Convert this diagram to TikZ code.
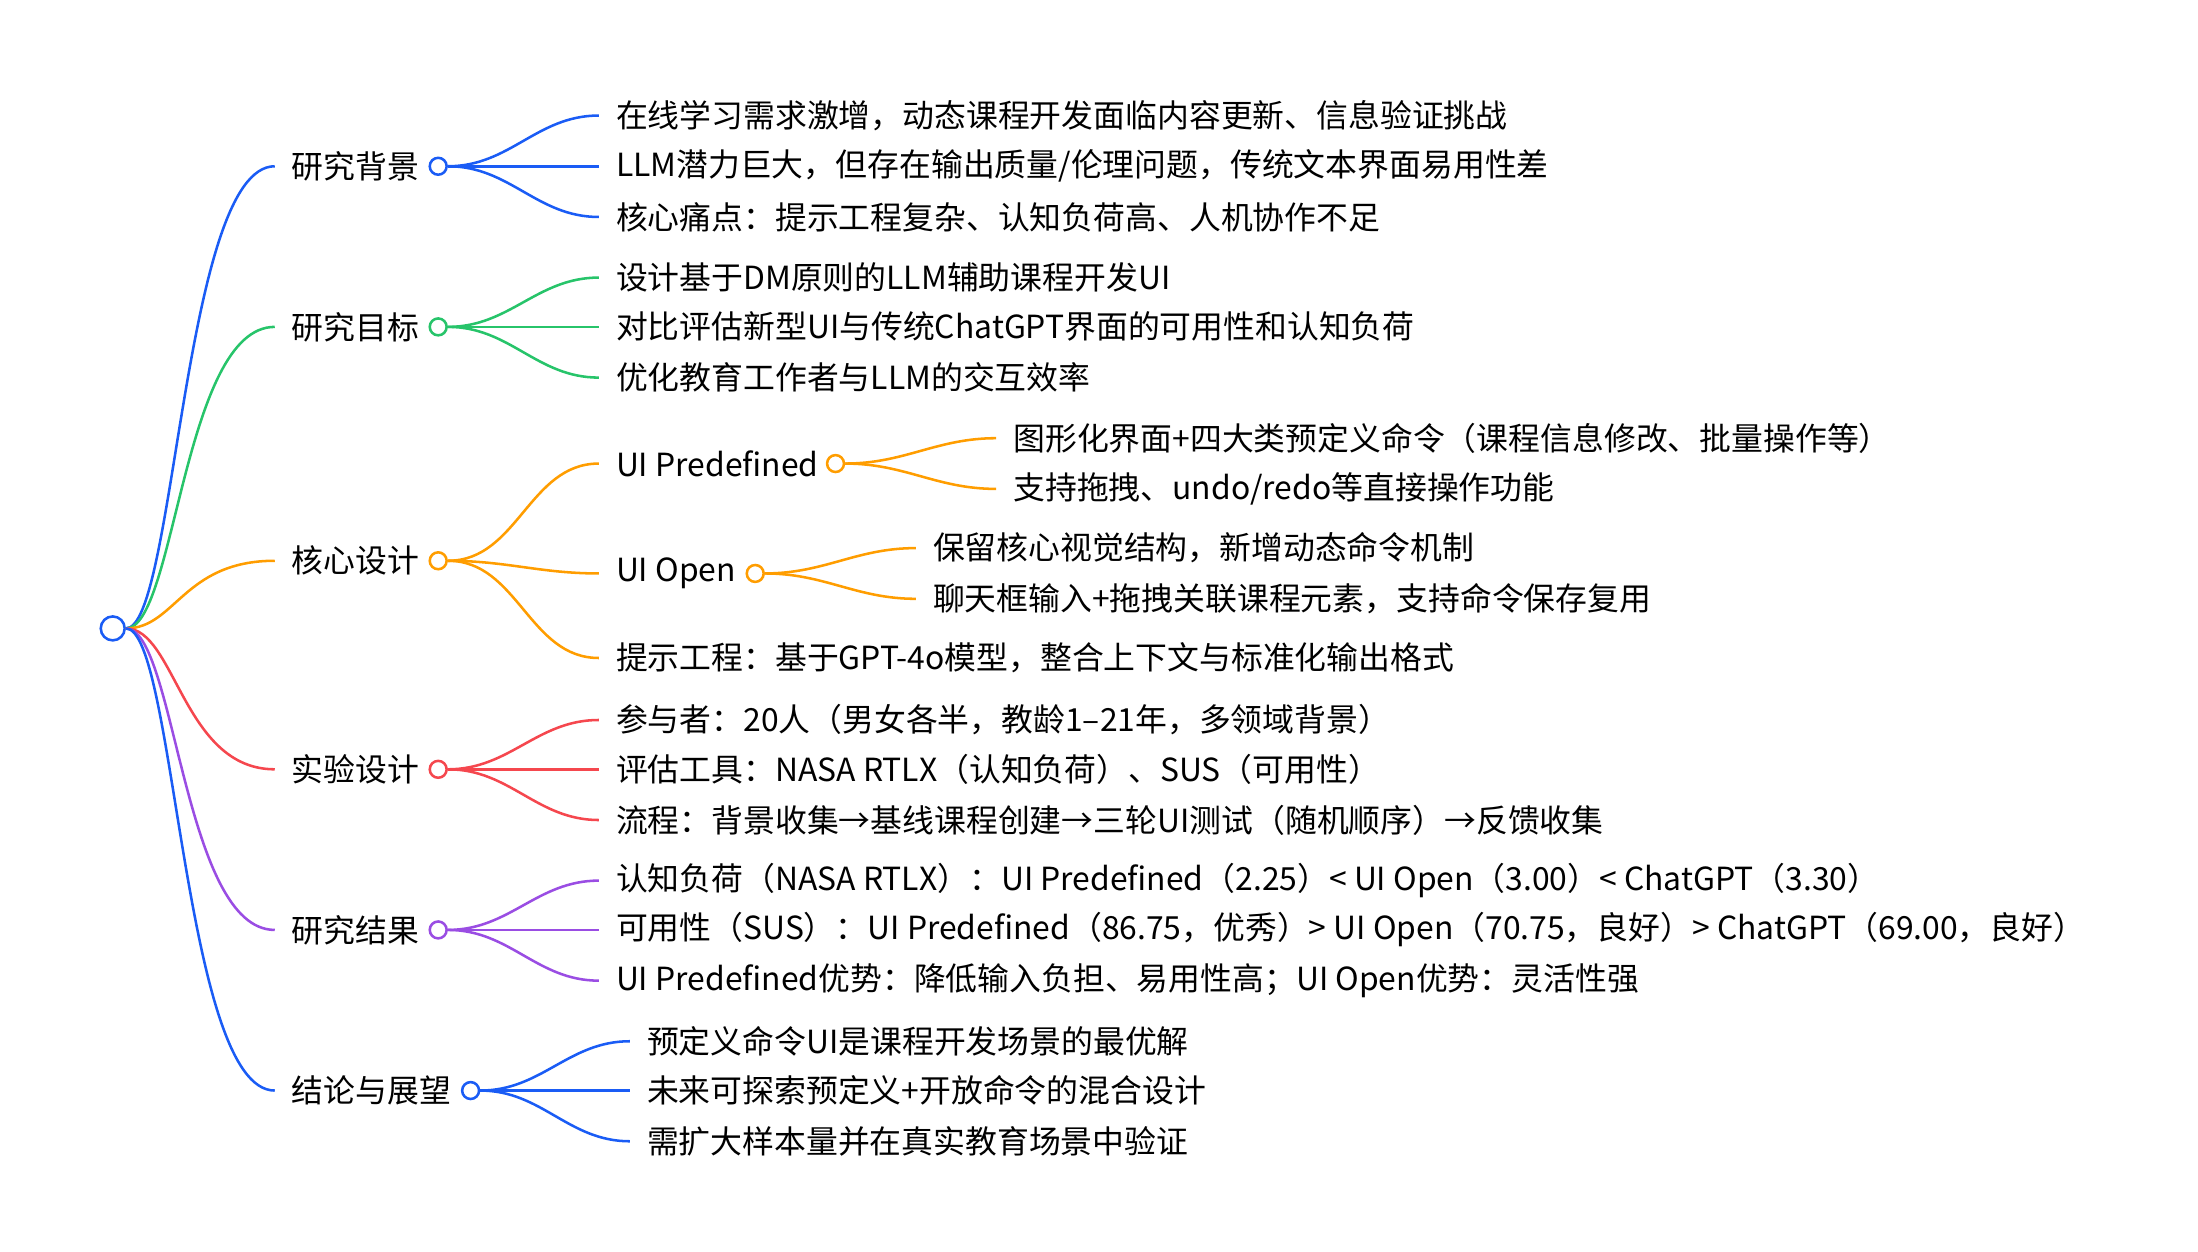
\documentclass[tikz,border=0pt]{standalone}
\usepackage{fontspec}
\setmainfont{Noto Sans CJK SC}
\begin{document}
\begin{tikzpicture}[x=1pt,y=-1pt,
  lbl/.style={anchor=west,inner sep=0pt,font=\fontsize{22.6}{26}\selectfont},
  dot/.style={circle,draw=#1,fill=white,line width=1.8pt,minimum size=12pt,inner sep=0pt},
  ln/.style={draw=#1,line width=1.8pt,out=0,in=180}]
\useasboundingbox (0,0) rectangle (1560,888);
\definecolor{cb}{HTML}{1A5CF5}
\definecolor{cg}{HTML}{27C46A}
\definecolor{co}{HTML}{FF9D00}
\definecolor{cr}{HTML}{F5474E}
\definecolor{cp}{HTML}{9A4DE3}
\node[dot=cb,minimum size=17pt] (root) at (80,446) {};
\newcommand\Lone[5]{% name, y, color, text, circle x
  \coordinate (#1e) at (195,#2);
  \node[lbl] (#1t) at (207,#2) {#4};
  \node[dot=#3] (#1c) at (#5,#2) {};
  \draw[draw=#3,line width=1.8pt] (root.east) .. controls +(35,0) and +(-65,0) .. (#1e);}
\newcommand\Kid[6]{% parent circle, name, x end, y, color, text
  \coordinate (#2e) at (#3,#4);
  \node[lbl] (#2t) at ([xshift=12]#2e) {#6};
  \draw[ln=#5] (#1.east) to (#2e);}
\Lone{a}{118}{cb}{研究背景}{311}
\Lone{b}{232}{cg}{研究目标}{311}
\Lone{c}{398}{co}{核心设计}{311}
\Lone{d}{546}{cr}{实验设计}{311}
\Lone{e}{660}{cp}{研究结果}{311}
\Lone{f}{774}{cb}{结论与展望}{334}
\Kid{ac}{a1}{425}{82}{cb}{在线学习需求激增，动态课程开发面临内容更新、信息验证挑战}
\Kid{ac}{a2}{425}{118}{cb}{LLM潜力巨大，但存在输出质量/伦理问题，传统文本界面易用性差}
\Kid{ac}{a3}{425}{154}{cb}{核心痛点：提示工程复杂、认知负荷高、人机协作不足}
\Kid{bc}{b1}{425}{197}{cg}{设计基于DM原则的LLM辅助课程开发UI}
\Kid{bc}{b2}{425}{232}{cg}{对比评估新型UI与传统ChatGPT界面的可用性和认知负荷}
\Kid{bc}{b3}{425}{268}{cg}{优化教育工作者与LLM的交互效率}
\Kid{cc}{c1}{425}{329}{co}{UI Predefined}
\Kid{cc}{c2}{425}{407}{co}{UI Open}
\Kid{cc}{c3}{425}{467}{co}{提示工程：基于GPT-4o模型，整合上下文与标准化输出格式}
\node[dot=co] (c1c) at (593,329) {};
\node[dot=co] (c2c) at (536,407) {};
\Kid{c1c}{p1}{707}{311}{co}{图形化界面+四大类预定义命令（课程信息修改、批量操作等）}
\Kid{c1c}{p2}{707}{347}{co}{支持拖拽、undo/redo等直接操作功能}
\Kid{c2c}{o1}{650}{389}{co}{保留核心视觉结构，新增动态命令机制}
\Kid{c2c}{o2}{650}{425}{co}{聊天框输入+拖拽关联课程元素，支持命令保存复用}
\Kid{dc}{d1}{425}{511}{cr}{参与者：20人（男女各半，教龄1–21年，多领域背景）}
\Kid{dc}{d2}{425}{546}{cr}{评估工具：NASA RTLX（认知负荷）、SUS（可用性）}
\Kid{dc}{d3}{425}{582}{cr}{流程：背景收集→基线课程创建→三轮UI测试（随机顺序）→反馈收集}
\Kid{ec}{e1}{425}{625}{cp}{认知负荷（NASA RTLX）：UI Predefined（2.25）< UI Open（3.00）< ChatGPT（3.30）}
\Kid{ec}{e2}{425}{660}{cp}{可用性（SUS）：UI Predefined（86.75，优秀）> UI Open（70.75，良好）> ChatGPT（69.00，良好）}
\Kid{ec}{e3}{425}{696}{cp}{UI Predefined优势：降低输入负担、易用性高；UI Open优势：灵活性强}
\Kid{fc}{f1}{447}{739}{cb}{预定义命令UI是课程开发场景的最优解}
\Kid{fc}{f2}{447}{774}{cb}{未来可探索预定义+开放命令的混合设计}
\Kid{fc}{f3}{447}{810}{cb}{需扩大样本量并在真实教育场景中验证}
\end{tikzpicture}
\end{document}
